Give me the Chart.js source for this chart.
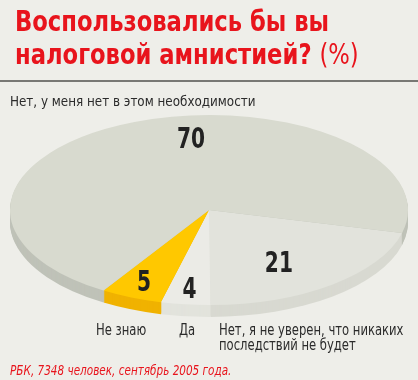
<!DOCTYPE html>
<html>
<head>
<meta charset="utf-8">
<script src="https://cdn.jsdelivr.net/npm/chart.js@4.4.1/dist/chart.umd.min.js"></script>
<style>
  html, body { margin: 0; padding: 0; }
  body { width: 418px; height: 380px; background: #eeeee9; position: relative; overflow: hidden;
         font-family: "DejaVu Sans Condensed", "Liberation Sans Narrow", sans-serif; }
  #pie { position: absolute; left: 0; top: 0; }
  .t { position: absolute; white-space: nowrap; transform-origin: 0 0; }
  .title { left: 15px; color: #e8141c; font-weight: bold; font-size: 28px; line-height: 28px; transform: scaleX(0.9); }
  .title span { font-weight: normal; }
  .lbl { color: #2b2b2b; font-size: 14px; line-height: 14px; transform: scaleX(0.95); }
  .blbl { color: #2b2b2b; font-size: 15px; line-height: 15px; transform: scaleX(0.86); }
  .rule { position: absolute; left: 0; top: 80px; width: 418px; height: 2px; background: #787874; }
  .src { left: 10px; top: 363px; color: #e8141c; font-style: italic; font-size: 14px; line-height: 14px; transform: scaleX(0.83); }
</style>
</head>
<body>
<canvas id="pie" width="418" height="380"></canvas>
<div class="t title" style="top:8px">Воспользовались бы вы</div>
<div class="t title" style="top:41px">налоговой амнистией? <span>(%)</span></div>
<div class="rule"></div>
<div class="t lbl" id="l3" style="left:10px; top:94px"></div>
<div class="t blbl" id="l2" style="left:96px; top:323px"></div>
<div class="t blbl" id="l1" style="left:179px; top:323px"></div>
<div class="t blbl" id="l0" style="left:219px; top:323px"></div>
<div class="t src">РБК, 7348 человек, сентябрь 2005 года.</div>

<script>
// survey answers, clockwise from the right-hand edge
const answers = ['Нет, я не уверен, что никаких\nпоследствий не будет', 'Да', 'Не знаю', 'Нет, у меня нет в этом необходимости'];
const shares = [21, 4, 5, 70];

const topColors = ['#e2e3dc', '#ebebe6', '#ffc800', '#d8dacf'];
const sideColors = ['#d8d9d1', '#e2e3dc', '#f0b200', '#bfc2b8'];
// label placement inside each slice: fraction of radius, angle shift (deg)
const labelSpots = [{ r: 0.65, da: 5.5 }, { r: 0.826, da: 0 }, { r: 0.816, da: 0.6 }, { r: 0.763, da: 15.2 }];

const STRETCH = 2.095;  // horizontal stretch -> flat ellipse
const DEPTH = 12;

answers.forEach((a, i) => {
  document.getElementById('l' + i).innerHTML = a.replace('\n', '<br>');
});

const tiltPlugin = {
  id: 'tilt',
  beforeDatasetsDraw(chart) {
    const ctx = chart.ctx;
    const arcs = chart.getDatasetMeta(0).data;
    const cx = arcs[0].x, cy = arcs[0].y;
    ctx.save();
    ctx.translate(cx, cy);
    ctx.scale(STRETCH, 1);
    ctx.translate(-cx, -cy);
    // side wall of the disc
    for (let d = DEPTH; d >= 1; d--) {
      arcs.forEach((el, i) => {
        ctx.beginPath();
        ctx.moveTo(el.x, el.y + d);
        ctx.arc(el.x, el.y + d, el.outerRadius, el.startAngle, el.endAngle);
        ctx.closePath();
        ctx.fillStyle = sideColors[i];
        ctx.fill();
      });
    }
  },
  afterDatasetsDraw(chart) {
    const ctx = chart.ctx;
    ctx.restore();
    const arcs = chart.getDatasetMeta(0).data;
    arcs.forEach((el, i) => {
      const mid = (el.startAngle + el.endAngle) / 2 + labelSpots[i].da * Math.PI / 180;
      const rr = el.outerRadius * labelSpots[i].r;
      const x = el.x + Math.cos(mid) * rr * STRETCH;
      const y = el.y + Math.sin(mid) * rr;
      ctx.save();
      ctx.translate(x, y + 10);
      ctx.scale(0.8, 1);
      ctx.font = 'bold 28px "DejaVu Sans Condensed", "Liberation Sans Narrow", sans-serif';
      ctx.fillStyle = '#222';
      ctx.textAlign = 'center';
      ctx.textBaseline = 'alphabetic';
      ctx.fillText(String(shares[i]), 0, 0);
      ctx.restore();
    });
  }
};

new Chart(document.getElementById('pie'), {
  type: 'pie',
  data: {
    labels: answers,
    datasets: [{
      data: shares,
      backgroundColor: topColors,
      borderWidth: 0,
      clip: false
    }]
  },
  options: {
    responsive: false,
    animation: false,
    events: [],
    rotation: 104,
    layout: { padding: { top: 115, bottom: 75, left: 10, right: 10 } },
    plugins: {
      legend: { display: false },
      tooltip: { enabled: false }
    }
  },
  plugins: [tiltPlugin]
});
</script>
</body>
</html>
